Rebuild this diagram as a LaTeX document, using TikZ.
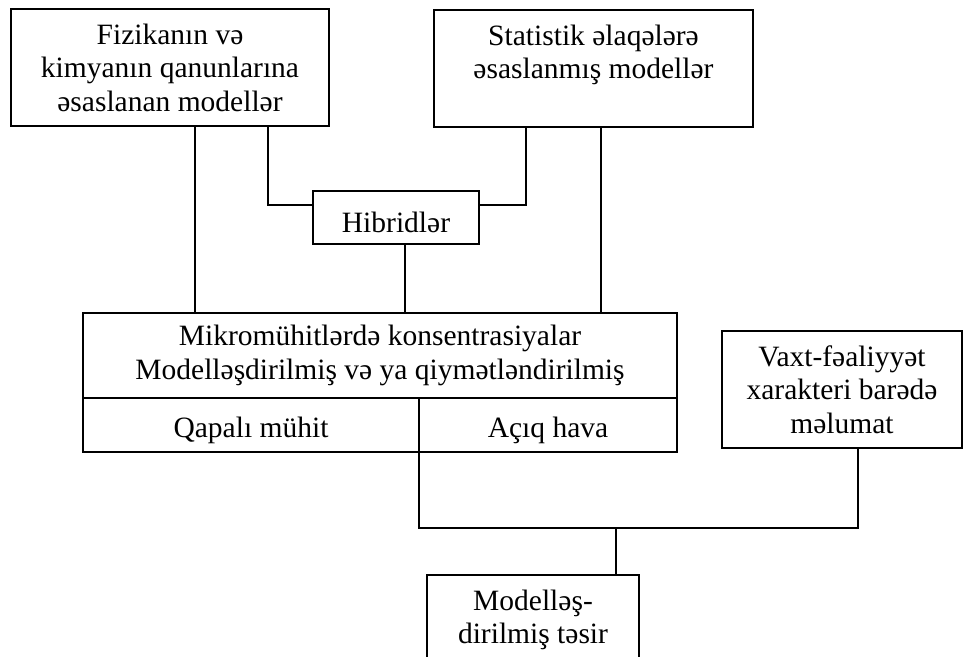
\documentclass[tikz,border=0pt]{standalone}
\usepackage{fontspec}
\setmainfont{Liberation Serif}
\usetikzlibrary{positioning, calc}

\begin{document}
\begin{tikzpicture}[x=1pt, y=-1pt,
    blok/.style={draw=black, line width=1.8pt, align=center, inner sep=0pt, outer sep=0pt,
      font=\fontsize{29.5}{33.5}\selectfont, execute at begin node={\rule{0pt}{31pt}}},
    xett/.style={draw=black, line width=1.7pt}]
  \useasboundingbox (0,0) rectangle (968,656);
  \clip (0,0) rectangle (968,656);

  \node[blok, minimum width=318, minimum height=117] (fizika) at (170,67.5) {Fizikanın və\\kimyanın qanunlarına\\əsaslanan modellər};
  \node[blok, minimum width=319, minimum height=117] (statistik) at (593.5,68.5) {Statistik əlaqələrə\\əsaslanmış modellər\\\mbox{}};
  \node[blok, minimum width=166, minimum height=53] (hibrid) at (396,217.5) {Hibridlər};
  \node[blok, minimum width=594, minimum height=85] (mikro) at (380,355.5) {Mikromühitlərdə konsentrasiyalar\\Modelləşdirilmiş və ya qiymətləndirilmiş};
  \node[blok, minimum width=336, minimum height=54, anchor=north west] (qapali) at (mikro.south west) {Qapalı mühit};
  \node[blok, minimum width=258, minimum height=54, anchor=north west] (aciq) at (qapali.north east) {Açıq hava};
  \node[blok, minimum width=240, minimum height=117] (vaxt) at (842,389.5) {Vaxt-fəaliyyət\\xarakteri barədə\\məlumat};
  \node[blok, minimum width=212, minimum height=117] (tesir) at (533,633.5) {Modelləş-\\dirilmiş təsir\\\mbox{}};

  \draw[xett] ([xshift=25]fizika.south) -- ([xshift=25]fizika.south |- mikro.north);
  \draw[xett] ([xshift=98]fizika.south) |- ([yshift=12.5]hibrid.west);
  \draw[xett] ([xshift=-67.5]statistik.south) |- ([yshift=12.5]hibrid.east);
  \draw[xett] ([xshift=7.5]statistik.south) -- ([xshift=7.5]statistik.south |- mikro.north);
  \draw[xett] ([xshift=9]hibrid.south) -- ([xshift=9]hibrid.south |- mikro.north);
  \draw[xett] (aciq.south west) -- ++(0,76) coordinate (qovsaq) -| ([xshift=16]vaxt.south);
  \draw[xett] ([xshift=83]tesir.north) -- ([xshift=83]tesir.north |- qovsaq);
\end{tikzpicture}
\end{document}
